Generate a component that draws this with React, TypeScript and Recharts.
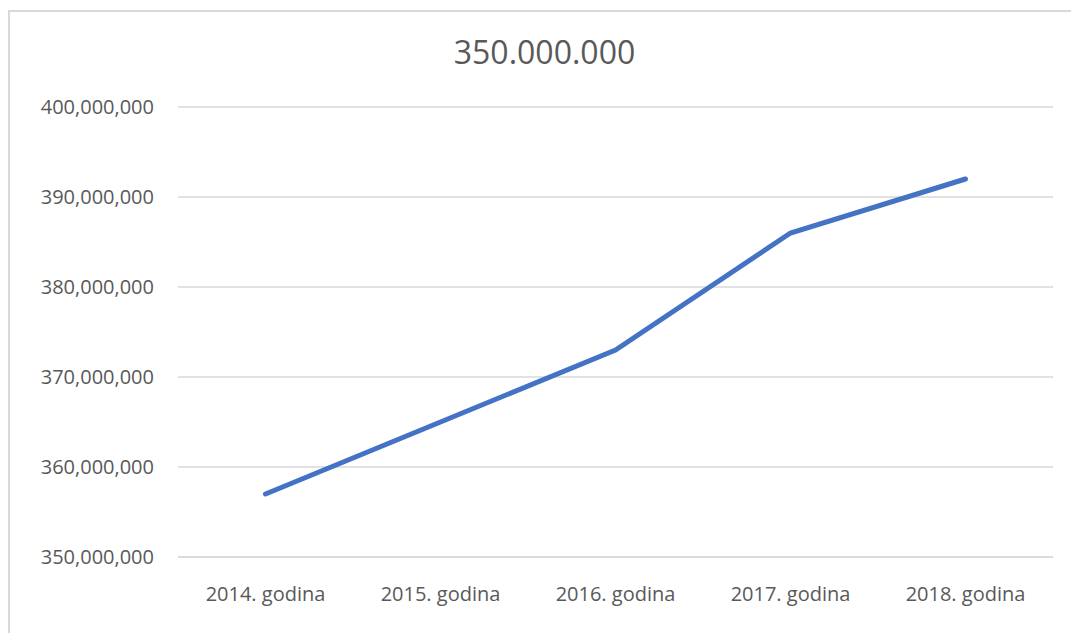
import { LineChart, Line, XAxis, YAxis, CartesianGrid } from "recharts"

const years = ["2014. godina", "2015. godina", "2016. godina", "2017. godina", "2018. godina"]
const amounts = [357000000, 365000000, 373000000, 386000000, 392000000]
const yTicks = [350000000, 360000000, 370000000, 380000000, 390000000, 400000000]
const title = "350.000.000"

const data = years.map((year, i) => ({ year, value: amounts[i] }))

const font = "'Open Sans', sans-serif"
const textColor = "#595959"

const fmt = (v: number) => v.toLocaleString("en-US")

export default function App() {
  return (
    <div style={{ position: "absolute", left: 0, top: 0, width: 1071, height: 633, background: "#fff", overflow: "hidden", fontFamily: font }}>
      <div
        style={{
          position: "absolute",
          left: 8,
          top: 10,
          width: 1100,
          height: 700,
          border: "2px solid #d9d9d9",
          boxSizing: "border-box",
        }}
      />
      <div
        style={{
          position: "absolute",
          left: 0,
          width: 1089,
          top: 30,
          textAlign: "center",
          fontSize: 32,
          color: textColor,
          lineHeight: "44px",
        }}
      >
        {title}
      </div>
      <div style={{ position: "absolute", left: 0, top: 0 }}>
        <LineChart width={1071} height={633} data={data} margin={{ top: 107, right: 18, bottom: 36, left: 0 }}>
          <CartesianGrid vertical={false} stroke="#d9d9d9" strokeWidth={1.5} />
          <XAxis
            dataKey="year"
            padding={{ left: 87.5, right: 87.5 }}
            axisLine={{ stroke: "#d9d9d9", strokeWidth: 1.5 }}
            tickLine={false}
            tickSize={0}
            tickMargin={30}
            height={40}
            tick={{ fill: textColor, fontSize: 20, fontFamily: font }}
          />
          <YAxis
            domain={[350000000, 400000000]}
            ticks={yTicks}
            tickFormatter={fmt}
            axisLine={false}
            tickLine={false}
            tickSize={0}
            tickMargin={24}
            width={178}
            tick={{ fill: textColor, fontSize: 20, fontFamily: font }}
          />
          <Line
            type="linear"
            dataKey="value"
            stroke="#4472C4"
            strokeWidth={5}
            strokeLinecap="round"
            dot={false}
            activeDot={false}
            isAnimationActive={false}
          />
        </LineChart>
      </div>
    </div>
  )
}
